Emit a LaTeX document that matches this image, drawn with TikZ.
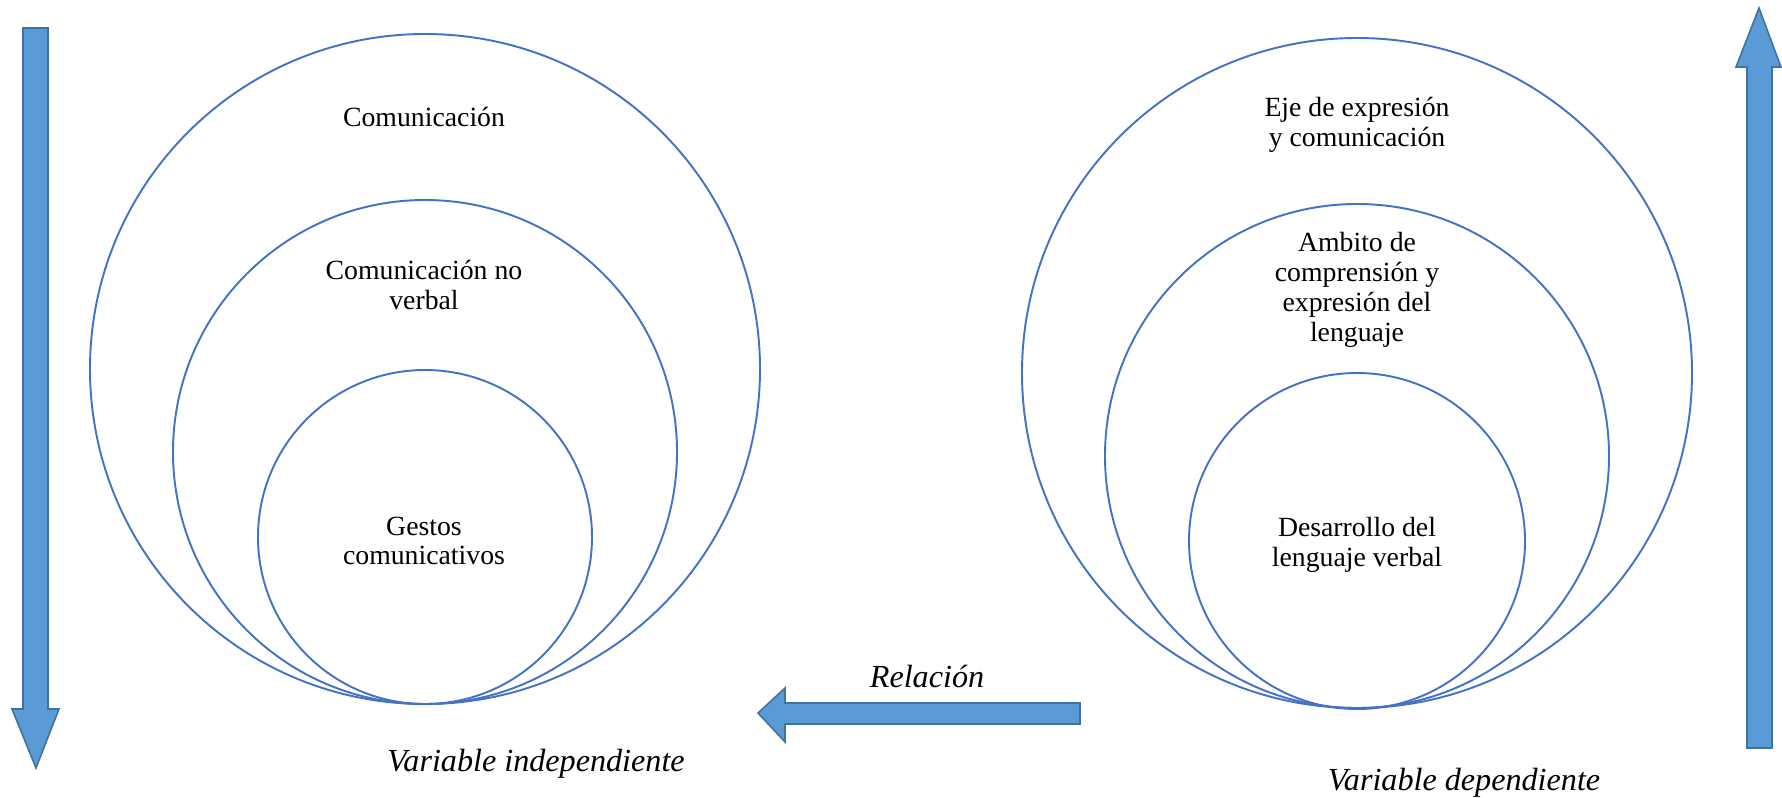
\documentclass[tikz,border=0pt]{standalone}
\usepackage{fontspec}
\setmainfont{Liberation Serif}
\usepackage{tikz}

\definecolor{ringblue}{HTML}{4472C4}
\definecolor{arrowfill}{HTML}{5B9BD5}
\definecolor{arrowline}{HTML}{41719C}

\begin{document}
\begin{tikzpicture}[x=0.02cm,y=-0.02cm,
  ring/.style={draw=ringblue,line width=1.1pt},
  blockarrow/.style={draw=arrowline,fill=arrowfill,line width=0.9pt,line join=miter},
  lbl/.style={align=center,font=\fontsize{15.8}{17}\selectfont,inner sep=0pt},
  varlbl/.style={font=\fontsize{18.3}{20}\selectfont\itshape,inner sep=0pt}]
  \useasboundingbox (0,0) rectangle (1782,798);
  % left side: independent variable
  \draw[ring] (425,369) circle[radius=335];
  \draw[ring] (425,452) circle[radius=252];
  \draw[ring] (425,537) circle[radius=167];
  \node[lbl] (com) at (424,117) {Comunicación};
  \node[lbl] (nov) at (424,285) {Comunicación no\\verbal};
  \node[lbl] (ges) at (424,541) {Gestos\\comunicativos};
  \node[varlbl] (vi) at (536,764) {Variable independiente};
  % right side: dependent variable
  \draw[ring] (1357,373) circle[radius=335];
  \draw[ring] (1357,456) circle[radius=252];
  \draw[ring] (1357,541) circle[radius=168];
  \node[lbl] (eje) at (1357,125) {Eje de expresión\\y comunicación};
  \node[lbl] (amb) at (1357,290) {Ambito de\\comprensión y\\expresión del\\lenguaje};
  \node[lbl] (des) at (1357,545) {Desarrollo del\\lenguaje verbal};
  \node[varlbl] (vd) at (1464,783) {Variable dependiente};
  % arrows
  \draw[blockarrow] (23,28) -- (48,28) -- (48,709) -- (59,709) -- (36,768)
    -- (12,709) -- (23,709) -- cycle;
  \draw[blockarrow] (1747,748) -- (1772,748) -- (1772,67) -- (1781,67) -- (1759,8)
    -- (1736,67) -- (1747,67) -- cycle;
  \draw[blockarrow] (1080,703) -- (785,703) -- (785,688) -- (758,713) -- (785,742)
    -- (785,724) -- (1080,724) -- cycle;
  \node[varlbl] (rel) at (927,676) {Relación};
\end{tikzpicture}
\end{document}
